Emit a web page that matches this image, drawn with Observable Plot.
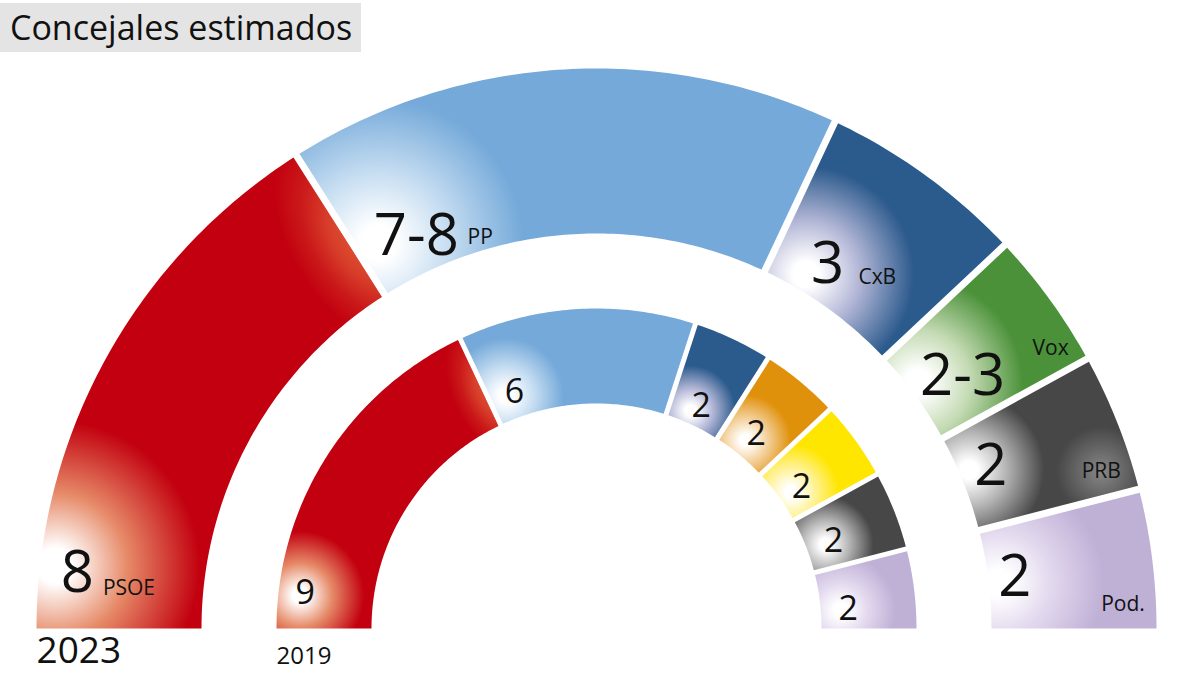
<!DOCTYPE html>
<html><head><meta charset="utf-8">
<script src="https://cdn.jsdelivr.net/npm/d3@7"></script>
<script src="https://cdn.jsdelivr.net/npm/@observablehq/plot@0.6"></script>
<style>
body{margin:0;background:#fff;font-family:"Open Sans",sans-serif;}
#title{height:55px;position:relative;}
#title span{position:absolute;left:0;top:3px;height:49px;line-height:48px;background:#e4e4e4;padding:0 9px 0 10px;font-size:34px;color:#111;}
#chart svg{display:block;}
</style></head><body>
<div id="title"><span>Concejales estimados</span></div>
<div id="chart"></div>
<script>
// ---------- data ----------
const parties2023 = ["PSOE", "PP", "CxB", "Vox", "PRB", "Pod."];
const seats2023   = [8, 8, 3, 2, 2, 2];            // arc widths as drawn
const labels2023  = ["8", "7-8", "3", "2-3", "2", "2"];
const parties2019 = ["PSOE", "PP", "CxB", "Cs", "Otros", "PRB", "Pod."];
const seats2019   = [9, 6, 2, 2, 2, 2, 2];
const labels2019  = ["9", "6", "2", "2", "2", "2", "2"];
const years       = ["2023", "2019"];

// ---------- styles ----------
const partyColors = {PSOE:"#c2000f", PP:"#74a9d9", CxB:"#2b5a8c", Vox:"#4b9139", PRB:"#474747", "Pod.":"#bfb0d6", Cs:"#e0910c", Otros:"#ffe600"};
const partyTints  = {PSOE:"#e68a68", PP:"#c4dcf1", CxB:"#b2b6d6", Vox:"#c3dab2", PRB:"#b4b4b4", "Pod.":"#e2d8ee", Cs:"#f3cf98", Otros:"#fff29a"};

// label layout: [numberOffsetSeats, numberRadialFrac, glowOffsetSeats, glowRadialFrac, glowRadius, nameOffsetSeats, nameRadialFrac]
const layout2023 = [
  [0.84, 0.77, 0.92, 0.91, 145, 0.68, 0.45],
  [1.07, 0.22, 0.40, 0.29, 145, 2.20, 0.08],
  [1.00, 0.22, 0.75, 0.10, 108, 1.87, 0.33],
  [1.20, 0.30, 0.80, 0.06, 105, 1.60, 0.84],
  [0.90, 0.19, 0.80, 0.06, 75, 1.60, 0.81],
  [1.04, 0.16, 1.10, 0.06, 105, 1.64, 0.80]
];
const layout2019 = [
  [0.95, 0.72, 0.89, 0.77, 64],
  [0.85, 0.27, 0.54, 0.26, 58],
  [1.00, 0.22, 0.74, 0.13, 45],
  [0.97, 0.28, 0.83, 0.16, 45],
  [1.20, 0.25, 1.14, 0.13, 48],
  [1.20, 0.29, 1.20, 0.20, 48],
  [1.40, 0.29, 1.40, 0.21, 55]
];

const rings = [
  {year: years[0], parties: parties2023, seats: seats2023, labels: labels2023, layout: layout2023, r0: 395, r1: 560, gap: 7, numSize: 58, nameSize: 21, yearSize: 37, yearDy: 23, showNames: true},
  {year: years[1], parties: parties2019, seats: seats2019, labels: labels2019, layout: layout2019, r0: 225, r1: 320, gap: 5, numSize: 34, nameSize: 0, yearSize: 24, yearDy: 28, showNames: false}
];

function polar(seatPos, total, rho) {
  const t = seatPos / total * Math.PI;
  return {x: -rho * Math.cos(t), y: rho * Math.sin(t)};
}

function segPolygon(a0, a1, r0, r1, gap, id) {
  const pts = [];
  const n = Math.max(10, Math.ceil((a1 - a0) * 80));
  const first = a0 < 1e-9, last = a1 > Math.PI - 1e-9;
  const o0 = first ? 0 : gap / 2 / r1, o1 = last ? 0 : gap / 2 / r1;
  const i0 = first ? 0 : gap / 2 / r0, i1 = last ? 0 : gap / 2 / r0;
  for (let k = 0; k <= n; k++) {
    const t = a0 + o0 + (a1 - o1 - a0 - o0) * k / n;
    pts.push({id, x: -r1 * Math.cos(t), y: r1 * Math.sin(t)});
  }
  for (let k = n; k >= 0; k--) {
    const t = a0 + i0 + (a1 - i1 - a0 - i0) * k / n;
    pts.push({id, x: -r0 * Math.cos(t), y: r0 * Math.sin(t)});
  }
  return pts;
}

const segments = [], numLabels = [], nameLabels = [], glows = [], yearLabels = [], edges = [];
rings.forEach((ring, ri) => {
  const total = d3.sum(ring.seats);
  const cum = d3.cumsum(ring.seats);
  const th = ring.r1 - ring.r0;
  ring.seats.forEach((s, i) => {
    const start = cum[i] - s;
    const party = ring.parties[i];
    const id = `seg-${ri}-${i}`;
    segments.push({id, party, ring: ri, points: segPolygon(start / total * Math.PI, cum[i] / total * Math.PI, ring.r0, ring.r1, ring.gap, id)});
    const L = ring.layout[i];
    numLabels.push({ring: ri, text: ring.labels[i], ...polar(start + L[0], total, ring.r0 + th * L[1])});
    glows.push({id, party, r: L[4], ...polar(start + L[2], total, ring.r0 + th * L[3])});
    if (ring.showNames) nameLabels.push({text: party, ...polar(start + L[5], total, ring.r0 + th * L[6])});
  });
  // soft orange sheen on the first (PSOE) segment along its border with the second
  const theta = cum[0] / total * Math.PI;
  edges.push({seg: `seg-${ri}-0`, id: `edge-${ri}`, theta, ...polar(cum[0], total, ring.r0 + th * 0.36),
              a: th * 0.75, b: ri === 0 ? 72 : 40, shift: ri === 0 ? 12 : 7});
  yearLabels.push({text: ring.year, x: -ring.r1, y: 0, size: ring.yearSize, dy: ring.yearDy});
});

// halo behind the PRB name
const halos = [{seg: "seg-0-4", id: "halo-0", color: "#ffffff", op: 0.35, r: 45, x: nameLabels[4].x, y: nameLabels[4].y}];

const marks = [];
segments.forEach(s => {
  marks.push(Plot.line(s.points, {x: "x", y: "y", fill: `url(#g-${s.id})`, stroke: "none", curve: "linear-closed"}));
  [...edges, ...halos].filter(e => e.seg === s.id).forEach(e =>
    marks.push(Plot.line(s.points, {x: "x", y: "y", fill: `url(#${e.id})`, stroke: "none", curve: "linear-closed"})));
});
rings.forEach((ring, ri) => {
  marks.push(Plot.text(numLabels.filter(d => d.ring === ri), {x: "x", y: "y", text: "text", fontSize: ring.numSize, fontFamily: "Open Sans", fill: "#111", textAnchor: "middle", lineAnchor: "middle"}));
});
marks.push(Plot.text(nameLabels, {x: "x", y: "y", text: "text", fontSize: rings[0].nameSize, fontFamily: "Open Sans", fill: "#111", textAnchor: "middle", lineAnchor: "middle"}));
yearLabels.forEach(d => marks.push(Plot.text([d], {x: "x", y: "y", text: "text", dy: d.dy, fontSize: d.size, fontFamily: "Open Sans", fill: "#111", textAnchor: "start", lineAnchor: "middle"})));

const plot = Plot.plot({
  width: 1200, height: 620, margin: 0,
  x: {domain: [-596, 604], axis: null},
  y: {domain: [-47, 573], axis: null},
  style: {background: "#fff", overflow: "visible"},
  marks
});

// gradients in screen space via the plot's own scales
const sx = plot.scale("x"), sy = plot.scale("y");
const defs = d3.select(plot).insert("defs", ":first-child");
glows.forEach(g => {
  const c = partyColors[g.party], tint = partyTints[g.party];
  const rg = defs.append("radialGradient").attr("id", `g-${g.id}`).attr("gradientUnits", "userSpaceOnUse")
    .attr("cx", sx.apply(g.x)).attr("cy", sy.apply(g.y)).attr("r", g.r);
  [[0, "#ffffff"], [0.12, "#ffffff"], [0.5, tint], [1, c]].forEach(([o, col]) =>
    rg.append("stop").attr("offset", o).attr("stop-color", col));
});
edges.forEach(e => {
  // radial direction on screen, and tangential shift towards the neighbouring segment
  const rdx = -Math.cos(e.theta), rdy = -Math.sin(e.theta);
  const tdx = Math.sin(e.theta), tdy = -Math.cos(e.theta);
  const cx = sx.apply(e.x) + tdx * e.shift, cy = sy.apply(e.y) + tdy * e.shift;
  const ang = Math.atan2(rdy, rdx) * 180 / Math.PI;
  const rg = defs.append("radialGradient").attr("id", e.id).attr("gradientUnits", "userSpaceOnUse")
    .attr("cx", 0).attr("cy", 0).attr("r", 1)
    .attr("gradientTransform", `translate(${cx},${cy}) rotate(${ang}) scale(${e.a},${e.b})`);
  [[0, 0.8], [0.4, 0.55], [0.7, 0.22], [1, 0]].forEach(([o, op]) =>
    rg.append("stop").attr("offset", o).attr("stop-color", "#e8703f").attr("stop-opacity", op));
});
halos.forEach(e => {
  const rg = defs.append("radialGradient").attr("id", e.id).attr("gradientUnits", "userSpaceOnUse")
    .attr("cx", sx.apply(e.x)).attr("cy", sy.apply(e.y)).attr("r", e.r);
  rg.append("stop").attr("offset", 0).attr("stop-color", e.color).attr("stop-opacity", e.op);
  rg.append("stop").attr("offset", 1).attr("stop-color", e.color).attr("stop-opacity", 0);
});

document.getElementById("chart").appendChild(plot);
</script>
</body></html>
